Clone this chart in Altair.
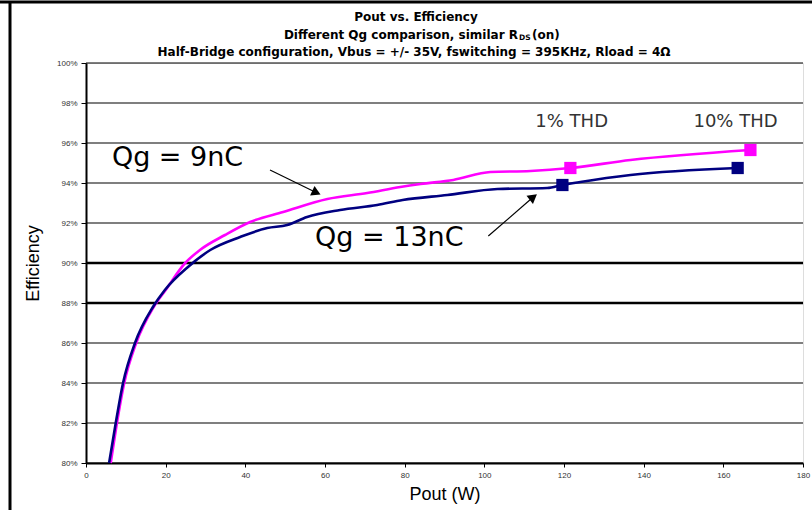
import altair as alt
import pandas as pd

# Qg = 9nC (magenta) and Qg = 13nC (navy) efficiency curves
pout_9nc = [6.2, 7.6, 9.6, 12.6, 17.0, 20.0, 24.9, 28.6, 34.9, 41.2, 49.5, 60.6,
            70.6, 78.9, 84.0, 92.2, 101.5, 111.6, 121.6, 136.7, 166.8]
eff_9nc = [0.800, 0.818, 0.840, 0.860, 0.878, 0.8865, 0.900, 0.9065, 0.914, 0.9205,
           0.9255, 0.932, 0.935, 0.938, 0.9395, 0.9415, 0.9455, 0.946, 0.9475, 0.9515, 0.9565]

pout_13nc = [5.8, 7.3, 9.3, 12.3, 16.8, 19.8, 25.6, 31.2, 38.7, 45.5, 50.5, 55.5,
             63.8, 73.1, 79.5, 90.7, 103.3, 115.8, 119.6, 124.1, 136.7, 163.6]
eff_13nc = [0.800, 0.818, 0.840, 0.860, 0.878, 0.8865, 0.898, 0.9065, 0.913, 0.9175,
            0.919, 0.923, 0.9265, 0.929, 0.9315, 0.934, 0.937, 0.9375, 0.939,
            0.9405, 0.944, 0.9475]

# THD operating points (1% and 10%)
thd_pout = [121.6, 166.8, 119.6, 163.6]
thd_eff = [0.9475, 0.9565, 0.939, 0.9475]
thd_series = ["9nC", "9nC", "13nC", "13nC"]

x_ticks = [0, 20, 40, 60, 80, 100, 120, 140, 160, 180]
y_ticks = [0.80, 0.82, 0.84, 0.86, 0.88, 0.90, 0.92, 0.94, 0.96, 0.98, 1.00]
heavy_grid = [0.88, 0.90]

FONT = "Liberation Sans"
WIDE = "DejaVu Sans"
W, H = 717, 400
colors = alt.Scale(domain=["9nC", "13nC"], range=["#ff00ff", "#000080"])

curves = pd.DataFrame(
    [{"pout": p, "eff": e, "series": "9nC", "order": i} for i, (p, e) in enumerate(zip(pout_9nc, eff_9nc))]
    + [{"pout": p, "eff": e, "series": "13nC", "order": i} for i, (p, e) in enumerate(zip(pout_13nc, eff_13nc))]
)
thd = pd.DataFrame({"pout": thd_pout, "eff": thd_eff, "series": thd_series})
grid = pd.DataFrame({"pout": [0] * len(y_ticks), "eff": y_ticks,
                     "w": [2.6 if v in heavy_grid else 1.2 for v in y_ticks]})

xs = alt.Scale(domain=[0, 180], nice=False)
ys = alt.Scale(domain=[0.80, 1.00], nice=False)

x_axis = alt.Axis(values=x_ticks, grid=False, title="Pout (W)",
                  labelFontSize=8, labelColor="#333", labelPadding=4, tickSize=4,
                  labelOverlap=False, labelFlush=False,
                  tickColor="black", domainColor="black", domainWidth=2,
                  titleFontSize=18, titleFontWeight="normal", titlePadding=6, titleFont=FONT)
y_axis = alt.Axis(values=y_ticks, format=".0%", grid=False, title="Efficiency",
                  labelFontSize=8, labelColor="#333", labelPadding=4, tickSize=5,
                  labelOverlap=False, labelFlush=False,
                  tickColor="black", domainColor="black", domainWidth=2,
                  titleFontSize=18, titleFontWeight="normal", titlePadding=14, titleFont=FONT)


def X(field):
    return alt.X(field, scale=xs, axis=x_axis)


def Y(field):
    return alt.Y(field, scale=ys, axis=y_axis)


gridlines = alt.Chart(grid).mark_rule(color="black").encode(
    y=Y("eff:Q"),
    strokeWidth=alt.StrokeWidth("w:Q", scale=None, legend=None),
)

lines = alt.Chart(curves).mark_line(strokeWidth=2.6, interpolate="monotone").encode(
    x=X("pout:Q"),
    y=Y("eff:Q"),
    color=alt.Color("series:N", scale=colors, legend=None),
    order="order:Q",
)

markers = alt.Chart(thd).mark_square(size=150, opacity=1).encode(
    x=X("pout:Q"),
    y=Y("eff:Q"),
    color=alt.Color("series:N", scale=colors, legend=None),
)

# Annotation labels in data coordinates
labels = pd.DataFrame({
    "pout": [6.5, 57.5, 112.8, 152.5],
    "eff": [0.9525, 0.9125, 0.9705, 0.9705],
    "text": ["Qg = 9nC", "Qg = 13nC", "1% THD", "10% THD"],
    "size": [27, 27, 18, 18],
    "col": ["black", "black", "#333333", "#333333"],
})
ann = alt.Chart(labels).mark_text(align="left", baseline="middle", font=WIDE).encode(
    x=X("pout:Q"),
    y=Y("eff:Q"),
    text="text:N",
    size=alt.Size("size:Q", scale=None, legend=None),
    color=alt.Color("col:N", scale=None, legend=None),
)

arrows = pd.DataFrame({
    "x0": [46.2, 101.0], "y0": [0.9465, 0.9135],
    "x1": [57.5, 112.0], "y1": [0.9355, 0.9325],
    "angle": [115, 52],
})
arrow_shafts = alt.Chart(arrows).mark_rule(color="black", strokeWidth=1.2).encode(
    x=X("x0:Q"), y=Y("y0:Q"),
    x2="x1:Q", y2="y1:Q",
)
arrow_heads = alt.Chart(arrows).mark_point(shape="triangle", filled=True, color="black",
                                           size=110, opacity=1).encode(
    x=X("x1:Q"), y=Y("y1:Q"),
    angle=alt.Angle("angle:Q", scale=None),
)

# Title block above the plot area (pixel offsets relative to the plot area)
title_style = dict(font=WIDE, fontWeight="bold", fontSize=12, baseline="middle", color="black")
t1 = alt.Chart().mark_text(align="center", **title_style).encode(
    x=alt.value(330), y=alt.value(-46), text=alt.value("Pout vs. Efficiency"))
t2a = alt.Chart().mark_text(align="right", **title_style).encode(
    x=alt.value(432), y=alt.value(-28), text=alt.value("Different Qg comparison, similar R"))
t2b = alt.Chart().mark_text(align="left", font=WIDE, fontWeight="bold", fontSize=7.5,
                            baseline="middle", color="black").encode(
    x=alt.value(433), y=alt.value(-25), text=alt.value("DS"))
t2c = alt.Chart().mark_text(align="left", **title_style).encode(
    x=alt.value(446), y=alt.value(-28), text=alt.value("(on)"))
t3 = alt.Chart().mark_text(align="center", **title_style).encode(
    x=alt.value(328), y=alt.value(-11),
    text=alt.value("Half-Bridge configuration, Vbus = +/- 35V, fswitching = 395KHz, Rload = 4Ω"))

# Outer frame lines
frame_top = alt.Chart().mark_rule(color="black", strokeWidth=3).encode(
    x=alt.value(-86), x2=alt.value(726), y=alt.value(-61))
frame_left = alt.Chart().mark_rule(color="black", strokeWidth=3).encode(
    x=alt.value(-76), y=alt.value(-61), y2=alt.value(447))

chart = alt.layer(
    gridlines, lines, markers, ann, arrow_shafts, arrow_heads,
    t1, t2a, t2b, t2c, t3, frame_top, frame_left,
).properties(
    width=W, height=H,
    autosize=alt.AutoSizeParams(type="none"),
    padding={"left": 86, "top": 63, "right": 9, "bottom": 47},
).configure_view(
    stroke="#888888", strokeWidth=1.5, fill="white",
).configure(background="white", font=FONT)

chart.save("out.html", embed_options={"renderer": "svg", "actions": False})
